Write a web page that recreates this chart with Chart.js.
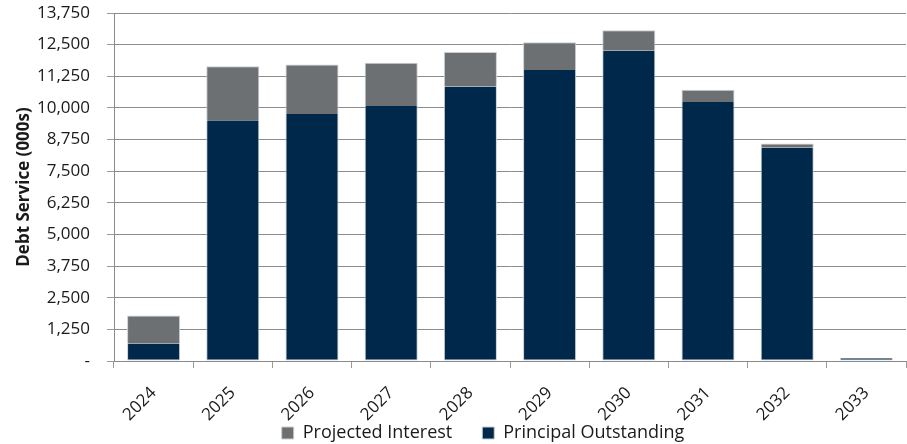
<!DOCTYPE html>
<html>
<head>
<meta charset="utf-8">
<script src="https://cdn.jsdelivr.net/npm/chart.js@4"></script>
<style>
  html, body { margin:0; padding:0; background:#fff; }
  #wrap { width:907px; height:444px; }
</style>
</head>
<body>
<div id="wrap"><canvas id="grafico"></canvas></div>
<script>
// dados (milhares)
let anos = ["2024","2025","2026","2027","2028","2029","2030","2031","2032","2033"];
let principal = [680, 9510, 9760, 10080, 10850, 11500, 12260, 10230, 8430, 110];
let juros = [1120, 2140, 1960, 1700, 1360, 1090, 810, 490, 160, 0];

let fonte = "'Open Sans', sans-serif";

// ajusta a posição da legenda (um pouco à direita, texto em y≈432)
// só o topo sobe: a legenda recorta o desenho à própria caixa
let moverLegenda = {
  id: "moverLegenda",
  afterLayout(chart){
    let lg = chart.legend;
    lg.left += 30; lg.right += 30;
    lg.top -= 27;
  }
};

let ctx = document.getElementById("grafico").getContext("2d");
let grafico = new Chart(ctx, {
  type: "bar",
  data: {
    labels: anos,
    datasets: [
      { label:"Principal Outstanding", data:principal, backgroundColor:"#00284a",
        borderColor:"#c9ced3", borderWidth:1, borderSkipped:"end", barPercentage:0.67, categoryPercentage:1 },
      { label:"Projected Interest", data:juros, backgroundColor:"#6d7073",
        borderColor:"#c9ced3", borderWidth:1, barPercentage:0.67, categoryPercentage:1 }
    ]
  },
  plugins: [moverLegenda],
  options: {
    responsive:true,
    maintainAspectRatio:false,
    animation:false,
    layout:{ padding:{ top:13, right:1, left:0, bottom:0 } },
    plugins:{
      legend:{
        position:"bottom",
        reverse:true,
        maxHeight:23,
        labels:{ font:{ family:fonte, size:18 }, color:"#1a1a1a", boxWidth:12, boxHeight:12, padding:30 }
      },
      tooltip:{ enabled:false }
    },
    scales:{
      x:{
        stacked:true,
        afterFit(scale){ scale.height = 60; scale.paddingLeft = 0; scale.paddingRight = 0; },
        grid:{
          offset:true,
          color:(c) => c.index === anos.length ? "#c0c0c0" : "rgba(0,0,0,0)",
          tickColor:"#9a9a9a",
          tickLength:7
        },
        border:{ color:"#8a8a8a", width:1 },
        ticks:{ minRotation:45, maxRotation:45, font:{ family:fonte, size:17 }, color:"#1a1a1a", padding:15 }
      },
      y:{
        stacked:true,
        min:0, max:13750,
        afterFit(scale){ scale.width = 114; scale.paddingTop = 0; scale.paddingBottom = 0; },
        title:{ display:true, text:"Debt Service (000s)", font:{ family:fonte, size:17, weight:"bold" }, color:"#1a1a1a", padding:{ top:14, bottom:0 } },
        grid:{ color:"#8c8c8c", tickColor:"#9a9a9a", tickLength:7 },
        border:{ color:"#8a8a8a", width:1 },
        ticks:{
          stepSize:1250,
          font:{ family:fonte, size:17 },
          color:"#1a1a1a",
          padding:17,
          callback:(v) => v === 0 ? "-" : v.toLocaleString("en-US")
        }
      }
    }
  }
});
</script>
</body>
</html>
